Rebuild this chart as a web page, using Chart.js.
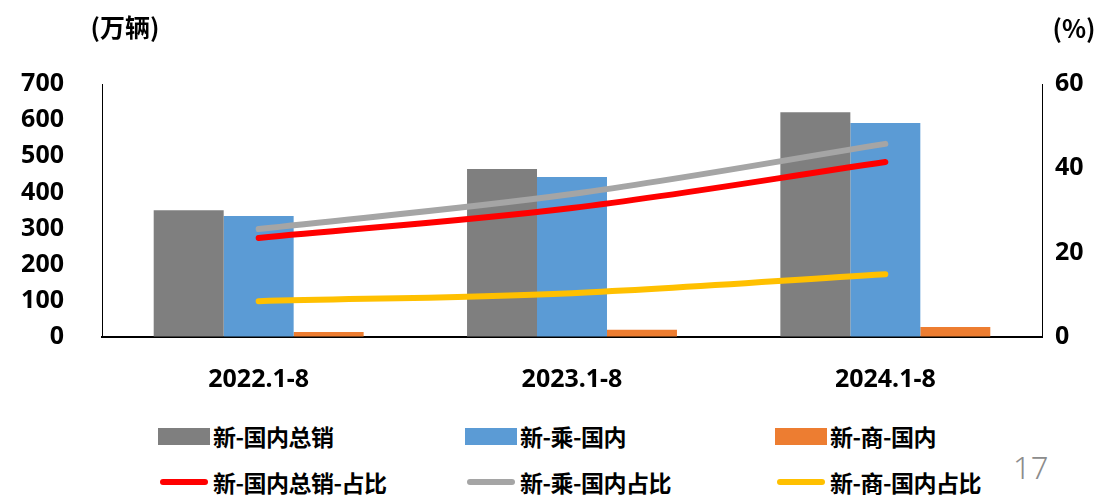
<!DOCTYPE html>
<html>
<head>
<meta charset="utf-8">
<script src="https://cdn.jsdelivr.net/npm/chart.js@4.4.1/dist/chart.umd.min.js"></script>
<style>
  body { margin: 0; background: #fff; font-family: "Noto Sans CJK SC", "Noto Sans", sans-serif; }
  #wrap { position: relative; width: 1102px; height: 495px; overflow: hidden; }
  #salesChart { position: absolute; left: 0; top: 0; }
  .legend-item { position: absolute; display: flex; align-items: center; font-weight: bold; font-size: 23px; color: #000; white-space: nowrap; letter-spacing: -0.5px; }
  .legend-box { width: 52px; height: 17px; margin-right: 3px; }
  .legend-line { width: 48px; height: 6px; border-radius: 3px; margin: 0 5px 0 2px; }
  #pageNo { position: absolute; left: 1013px; top: 446px; font-size: 31px; color: #8c8c8c; font-family: "Noto Sans", sans-serif; font-weight: 300; }
</style>
</head>
<body>
<div id="wrap">
  <canvas id="salesChart" width="1102" height="400"></canvas>
  <div id="legend"></div>
  <div id="pageNo">17</div>
</div>
<script>
// 数据
const categories = ["2022.1-8", "2023.1-8", "2024.1-8"];
const barNames = ["新-国内总销", "新-乘-国内", "新-商-国内"];
const lineNames = ["新-国内总销-占比", "新-乘-国内占比", "新-商-国内占比"];

// 销量（万辆）
const totalDomestic = [351, 465, 622];
const passengerDomestic = [335, 443, 592];
const commercialDomestic = [14, 20, 28];

// 占比（%）
const totalShare = [23.5, 30.6, 41.5];
const passengerShare = [25.6, 33.9, 45.8];
const commercialShare = [8.5, 10.4, 14.9];

const leftTicks = [0, 100, 200, 300, 400, 500, 600, 700];
const rightTicks = [0, 20, 40, 60];

const barColors = ["#7f7f7f", "#5b9bd5", "#ed7d31"];
const lineColors = ["#ff0000", "#a5a5a5", "#ffc000"];

const tickFont = { family: "'Noto Sans', 'Noto Sans CJK SC', sans-serif", size: 25, weight: "bold" };

// 轴标题
const axisTitles = {
  id: "axisTitles",
  afterDraw(chart) {
    const c = chart.ctx;
    c.save();
    c.fillStyle = "#000";
    c.font = "bold 25px 'Noto Sans CJK SC', sans-serif";
    c.textBaseline = "middle";
    c.textAlign = "center";
    c.fillText("(万辆)", 125, 27);
    c.fillText("(%)", 1074, 28);
    c.restore();
  },
};

const barSets = [totalDomestic, passengerDomestic, commercialDomestic].map((d, i) => ({
  type: "bar",
  label: barNames[i],
  data: d,
  backgroundColor: barColors[i],
  yAxisID: "y",
  order: 2,
  categoryPercentage: 0.67,
  barPercentage: 1.0,
}));

const lineSets = [totalShare, passengerShare, commercialShare].map((d, i) => ({
  type: "line",
  label: lineNames[i],
  data: d,
  borderColor: lineColors[i],
  backgroundColor: lineColors[i],
  borderWidth: 6,
  borderCapStyle: "round",
  pointRadius: 0,
  tension: 0.35,
  yAxisID: "y1",
  order: 1,
}));

var ctx = document.getElementById("salesChart").getContext("2d");
var salesChart = new Chart(ctx, {
  data: {
    labels: categories,
    datasets: barSets.concat(lineSets),
  },
  options: {
    responsive: false,
    animation: false,
    layout: { padding: { top: 84 } },
    plugins: {
      legend: { display: false },
      tooltip: { enabled: false },
    },
    scales: {
      x: {
        grid: { display: false, drawTicks: false },
        border: { color: "#000", width: 2 },
        ticks: { font: tickFont, color: "#000", padding: 28 },
        afterFit(s) { s.height = 63; },
      },
      y: {
        position: "left",
        min: 0,
        max: 700,
        afterBuildTicks(s) { s.ticks = leftTicks.map(v => ({ value: v })); },
        grid: { drawOnChartArea: false, drawTicks: false },
        border: { color: "#000", width: 1 },
        ticks: { font: tickFont, color: "#000", padding: 38 },
        afterFit(s) { s.width = 102; },
      },
      y1: {
        position: "right",
        min: 0,
        max: 60,
        afterBuildTicks(s) { s.ticks = rightTicks.map(v => ({ value: v })); },
        grid: { drawOnChartArea: false, drawTicks: false },
        border: { color: "#000", width: 1 },
        ticks: { font: tickFont, color: "#000", padding: 13 },
        afterFit(s) { s.width = 60; },
      },
    },
  },
  plugins: [axisTitles],
});

// 图例（两行三列）
const legendEl = document.getElementById("legend");
const colX = [158, 465, 775];
barNames.forEach((name, i) => {
  const item = document.createElement("div");
  item.className = "legend-item";
  item.style.left = colX[i] + "px";
  item.style.top = "419px";
  item.innerHTML = '<span class="legend-box" style="background:' + barColors[i] + '"></span>' + name;
  legendEl.appendChild(item);
});
lineNames.forEach((name, i) => {
  const item = document.createElement("div");
  item.className = "legend-item";
  item.style.left = colX[i] + "px";
  item.style.top = "465px";
  item.innerHTML = '<span class="legend-line" style="background:' + lineColors[i] + '"></span>' + name;
  legendEl.appendChild(item);
});
</script>
</body>
</html>
